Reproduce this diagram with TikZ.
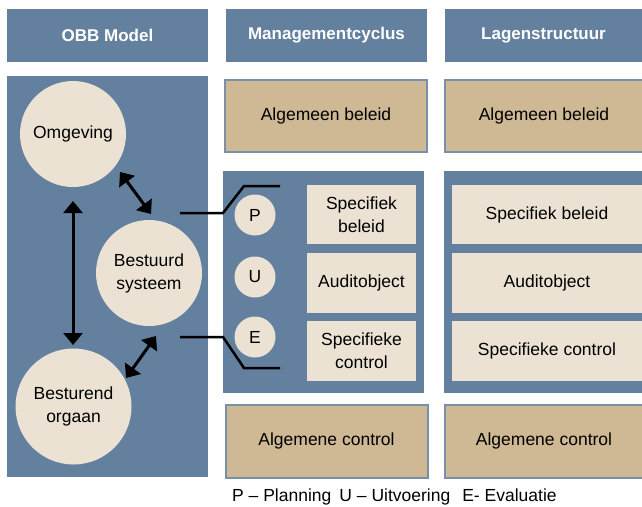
\documentclass[tikz,border=0pt]{standalone}
\usepackage{fontspec}
\setmainfont{Liberation Sans}
\usetikzlibrary{arrows.meta}
\definecolor{panelblue}{HTML}{64809F}
\definecolor{lightbeige}{HTML}{EBE2D3}
\definecolor{tanfill}{HTML}{CEB994}
\definecolor{tanborder}{HTML}{7990AB}
\tikzset{
  header/.style={fill=panelblue, text=white, inner sep=0pt, minimum height=53pt,
     font=\fontsize{17}{21}\selectfont\bfseries},
  panel/.style={fill=panelblue, inner sep=0pt},
  tanbox/.style={fill=tanfill, draw=tanborder, line width=2pt, inner sep=0pt,
     font=\fontsize{17.5}{23}\selectfont},
  beigebox/.style={fill=lightbeige, inner sep=0pt, align=center,
     font=\fontsize{17.5}{23}\selectfont},
  bigcircle/.style={circle, fill=lightbeige, inner sep=0pt, align=center,
     font=\fontsize{17.5}{23}\selectfont},
  smallcircle/.style={circle, fill=lightbeige, inner sep=0pt, minimum size=41pt,
     font=\fontsize{17.5}{23}\selectfont},
  dblarrow/.style={line width=3pt, {Triangle[length=12pt,width=19pt]}-{Triangle[length=12pt,width=19pt]}},
  bracket/.style={line width=2.5pt, line join=miter}
}
\begin{document}
\begin{tikzpicture}[x=1pt,y=-1pt]
\useasboundingbox (0,0) rectangle (642,506);

% headers
\node[header, minimum width=201pt] (h1) at (107.5,35.5) {OBB Model};
\node[header, minimum width=201pt] (h2) at (326.5,35.5) {Managementcyclus};
\node[header, minimum width=197pt] (h3) at (543.5,35.5) {Lagenstructuur};

% panels
\node[panel, minimum width=201pt, minimum height=401pt] (pl) at (107.5,276.5) {};
\node[panel, minimum width=201pt, minimum height=222pt] (pm) at (323.5,282) {};
\node[panel, minimum width=198pt, minimum height=222pt] (pr) at (543,282) {};

% Algemeen beleid
\node[tanbox, minimum width=202pt, minimum height=72pt] (ab1) at (326,116) {Algemeen beleid};
\node[tanbox, minimum width=198pt, minimum height=72pt] (ab2) at (544,116) {Algemeen beleid};

% Algemene control
\node[tanbox, minimum width=202pt, minimum height=73pt] (ac1) at (326.5,441) {Algemene control};
\node[tanbox, minimum width=198pt, minimum height=73pt] (ac2) at (544,441) {Algemene control};

% middle inner boxes
\node[beigebox, minimum width=109pt, minimum height=59pt] (m1) at (361.5,214.5) {Specifiek\\beleid};
\node[beigebox, minimum width=109pt, minimum height=60pt] (m2) at (361.5,283) {Auditobject};
\node[beigebox, minimum width=109pt, minimum height=60pt] (m3) at (361.5,351) {Specifieke\\control};

% right inner boxes
\node[beigebox, minimum width=190pt, minimum height=59pt] (r1) at (547,214.5) {Specifiek beleid};
\node[beigebox, minimum width=190pt, minimum height=60pt] (r2) at (547,283) {Auditobject};
\node[beigebox, minimum width=190pt, minimum height=60pt] (r3) at (547,351) {Specifieke control};

% P U E circles
\node[smallcircle] (cp) at (255,215) {P};
\node[smallcircle] (cu) at (255,277) {U};
\node[smallcircle] (ce) at (255,337) {E};

% OBB circles
\node[bigcircle, minimum size=106pt] (omg) at (73,134) {Omgeving};
\node[bigcircle, minimum size=106pt] (bes) at (149,273) {Bestuurd\\systeem};
\node[bigcircle, minimum size=116pt] (bor) at (73.5,406.5) {Besturend\\orgaan};

% arrow end points
\coordinate (va) at (73,201);
\coordinate (vb) at (73,345);
\coordinate (ta) at (120,172);
\coordinate (tb) at (151,214);
\coordinate (ba) at (156,336);
\coordinate (bb) at (126,378);
\draw[dblarrow] (va) -- (vb);
\draw[dblarrow] (ta) -- (tb);
\draw[dblarrow] (ba) -- (bb);

% brackets
\coordinate (t1) at (180,213);
\coordinate (t2) at (223,213);
\coordinate (t3) at (244,186);
\coordinate (t4) at (280,186);
\coordinate (b1) at (180,337);
\coordinate (b2) at (223,337);
\coordinate (b3) at (244,368);
\coordinate (b4) at (280,368);
\draw[bracket] (t1) -- (t2) -- (t3) -- (t4);
\draw[bracket] (b1) -- (b2) -- (b3) -- (b4);

% caption
\node[anchor=base west, inner sep=0pt, font=\fontsize{17.5}{23}\selectfont] (cap) at (232,501)
  {P -- Planning\hspace{8pt}U -- Uitvoering\hspace{12pt}E- Evaluatie};
\end{tikzpicture}
\end{document}
